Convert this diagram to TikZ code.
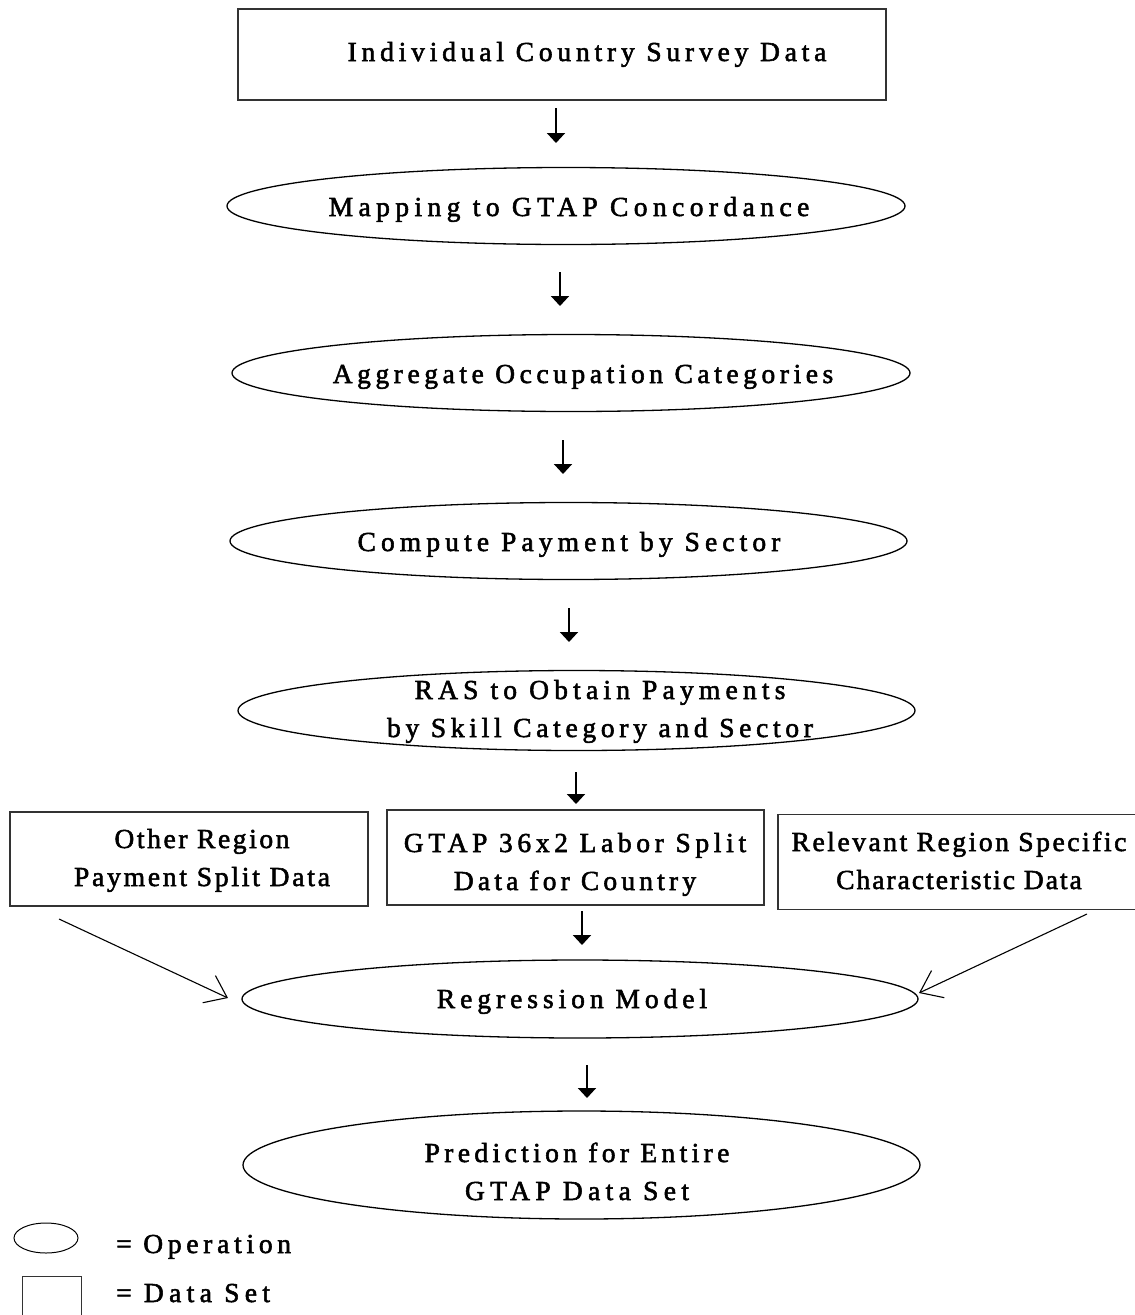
\documentclass[tikz,border=0pt]{standalone}
\usepackage{fontspec}
\setmainfont{Liberation Serif}[FakeBold=2]
\newcommand\lsp[1]{\addfontfeature{LetterSpace=#1}}
\usetikzlibrary{shapes.geometric,arrows.meta}
\begin{document}
\begin{tikzpicture}[x=1pt,y=-1pt,
 op/.style={draw, ellipse, line width=1.3pt, inner sep=0pt},
 ds/.style={draw=black!80, rectangle, line width=1.3pt, inner sep=0pt},
 lbl/.style={anchor=base, inner sep=0pt, font=\fontsize{27.5}{38}\selectfont, align=center},
 flow/.style={line width=2pt, -{Triangle[width=18pt,length=10pt]}},
 feed/.style={line width=1.1pt, -{Straight Barb[width=30pt,length=20pt,line width=1.1pt]}}]
\useasboundingbox (0,0) rectangle (1135,1315);

% shapes
\node[ds, minimum width=648pt, minimum height=91pt] (survey) at (562,54.5) {};
\node[op, minimum width=678pt, minimum height=77pt] (map) at (566,206) {};
\node[op, minimum width=678pt, minimum height=77pt] (agg) at (571,373) {};
\node[op, minimum width=677pt, minimum height=77pt] (comp) at (568.5,541) {};
\node[op, minimum width=677pt, minimum height=80pt] (ras) at (576.5,710.5) {};
\node[ds, minimum width=358pt, minimum height=94pt] (other) at (189,859) {};
\node[ds, minimum width=377pt, minimum height=95pt] (gtap) at (575.5,857.5) {};
\node[ds, minimum width=367pt, minimum height=95pt] (rel) at (961.5,862) {};
\node[op, minimum width=676pt, minimum height=78pt] (reg) at (580,999) {};
\node[op, minimum width=677pt, minimum height=108pt] (pred) at (581.5,1165) {};
\node[op, line width=1pt, minimum width=64pt, minimum height=30pt] (legop) at (46,1238) {};
\node[ds, line width=1pt, minimum width=59pt, minimum height=50pt] (legds) at (52,1301) {};

% texts
\node[lbl] (tsurvey) at (587,61) {\lsp{17.5}Individual Country Survey Data};
\node[lbl] (tmap) at (569,216) {\lsp{19.7}Mapping to GTAP Concordance};
\node[lbl] (tagg) at (583,383) {\lsp{16.6}Aggregate Occupation Categories};
\node[lbl] (tcomp) at (569,551) {\lsp{18.6}Compute Payment by Sector};
\node[lbl] (tras) at (600,737) {\lsp{18.9}RAS to Obtain Payments\\\lsp{17.1}by Skill Category and Sector};
\node[lbl] (tother) at (202,886) {\lsp{9.5}Other Region\\\lsp{10.2}Payment Split Data};
\node[lbl] (tgtap) at (575,890) {\lsp{17}GTAP 36x2 Labor Split\\\lsp{15.2}Data for Country};
\node[lbl] (trel) at (959,889) {\lsp{9.3}Relevant Region Specific\\\lsp{7.3}Characteristic Data};
\node[lbl] (treg) at (572,1008) {\lsp{18}Regression Model};
\node[lbl] (tpred) at (577,1200) {\lsp{15.9}Prediction for Entire\\\lsp{19.5}GTAP Data Set};
\node[lbl, anchor=base west] (tlegop) at (116,1253) {\lsp{17.2}= Operation};
\node[lbl, anchor=base west] (tlegds) at (116,1302) {\lsp{19.5}= Data Set};

% arrow end points
\coordinate (a1s) at (556,108); \coordinate (a1e) at (556,143);
\coordinate (a2s) at (560,272); \coordinate (a2e) at (560,306);
\coordinate (a3s) at (563,440); \coordinate (a3e) at (563,474);
\coordinate (a4s) at (569,608); \coordinate (a4e) at (569,642);
\coordinate (a5s) at (576,772); \coordinate (a5e) at (576,804);
\coordinate (a6s) at (582,911); \coordinate (a6e) at (582,945);
\coordinate (a7s) at (587,1065); \coordinate (a7e) at (587,1098);
\coordinate (lfs) at (59,919); \coordinate (lfe) at (228,998);
\coordinate (rfs) at (1087,914); \coordinate (rfe) at (919,993);

\draw[flow] (a1s) -- (a1e);
\draw[flow] (a2s) -- (a2e);
\draw[flow] (a3s) -- (a3e);
\draw[flow] (a4s) -- (a4e);
\draw[flow] (a5s) -- (a5e);
\draw[flow] (a6s) -- (a6e);
\draw[flow] (a7s) -- (a7e);
\draw[feed] (lfs) -- (lfe);
\draw[feed] (rfs) -- (rfe);
\end{tikzpicture}
\end{document}
